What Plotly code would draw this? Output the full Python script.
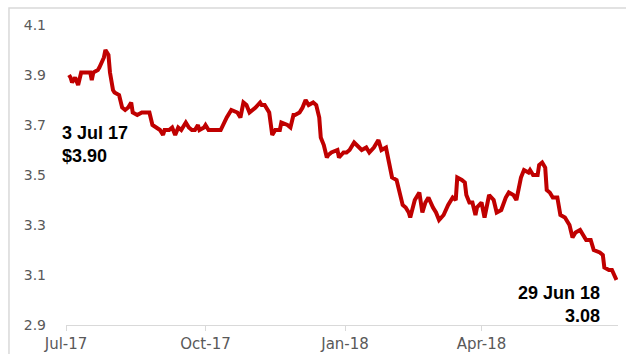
import plotly.graph_objects as go

dates = [
    "2017-07-03", "2017-07-04", "2017-07-05", "2017-07-07", "2017-07-09", "2017-07-11",
    "2017-07-14", "2017-07-16", "2017-07-17", "2017-07-18", "2017-07-19", "2017-07-22",
    "2017-07-23", "2017-07-26", "2017-07-27", "2017-07-29", "2017-07-30", "2017-08-01",
    "2017-08-02", "2017-08-05", "2017-08-06", "2017-08-07", "2017-08-09", "2017-08-11",
    "2017-08-13", "2017-08-14", "2017-08-17", "2017-08-20", "2017-08-23", "2017-08-25",
    "2017-08-27", "2017-08-30", "2017-09-01", "2017-09-03", "2017-09-04", "2017-09-07",
    "2017-09-09", "2017-09-11", "2017-09-13", "2017-09-15", "2017-09-18", "2017-09-20",
    "2017-09-22", "2017-09-24", "2017-09-26", "2017-09-27", "2017-09-30", "2017-10-01",
    "2017-10-03", "2017-10-11", "2017-10-13", "2017-10-15", "2017-10-18", "2017-10-22",
    "2017-10-24", "2017-10-26", "2017-10-28", "2017-10-30", "2017-11-03", "2017-11-06",
    "2017-11-07", "2017-11-09", "2017-11-12", "2017-11-13", "2017-11-14", "2017-11-16",
    "2017-11-19", "2017-11-20", "2017-11-24", "2017-11-26", "2017-11-28", "2017-11-29",
    "2017-12-02", "2017-12-04", "2017-12-06", "2017-12-08", "2017-12-11", "2017-12-13",
    "2017-12-15", "2017-12-16", "2017-12-18", "2017-12-20", "2017-12-21", "2017-12-23",
    "2017-12-27", "2017-12-28", "2017-12-31", "2018-01-02", "2018-01-04", "2018-01-07",
    "2018-01-10", "2018-01-12", "2018-01-15", "2018-01-17", "2018-01-20", "2018-01-23",
    "2018-01-25", "2018-01-28", "2018-01-30", "2018-02-01", "2018-02-04", "2018-02-06",
    "2018-02-08", "2018-02-10", "2018-02-12", "2018-02-13", "2018-02-14", "2018-02-16",
    "2018-02-19", "2018-02-21", "2018-02-23", "2018-02-25", "2018-02-28", "2018-03-02",
    "2018-03-04", "2018-03-07", "2018-03-10", "2018-03-13", "2018-03-15", "2018-03-16",
    "2018-03-19", "2018-03-21", "2018-03-22", "2018-03-24", "2018-03-26", "2018-03-28",
    "2018-03-29", "2018-04-01", "2018-04-03", "2018-04-06", "2018-04-09", "2018-04-11",
    "2018-04-14", "2018-04-17", "2018-04-19", "2018-04-22", "2018-04-24", "2018-04-27",
    "2018-04-29", "2018-05-02", "2018-05-03", "2018-05-05", "2018-05-08", "2018-05-09",
    "2018-05-11", "2018-05-13", "2018-05-14", "2018-05-16", "2018-05-18", "2018-05-21",
    "2018-05-23", "2018-05-26", "2018-05-29", "2018-05-31", "2018-06-02", "2018-06-05",
    "2018-06-07", "2018-06-09", "2018-06-12", "2018-06-14", "2018-06-18", "2018-06-20",
    "2018-06-21", "2018-06-24", "2018-06-26", "2018-06-28", "2018-06-29",
]

prices = [
    3.90, 3.89, 3.87, 3.89, 3.86, 3.91,
    3.91, 3.91, 3.91, 3.88, 3.91, 3.92,
    3.93, 3.97, 4.00, 3.98, 3.91, 3.84,
    3.83, 3.82, 3.80, 3.77, 3.76, 3.77,
    3.79, 3.75, 3.74, 3.75, 3.75, 3.75,
    3.70, 3.69, 3.68, 3.66, 3.68, 3.68,
    3.69, 3.66, 3.69, 3.68, 3.71, 3.69,
    3.68, 3.68, 3.70, 3.68, 3.69, 3.70,
    3.68, 3.68, 3.71, 3.73, 3.76, 3.75,
    3.73, 3.79, 3.78, 3.75, 3.77, 3.79,
    3.78, 3.78, 3.75, 3.71, 3.66, 3.68,
    3.68, 3.71, 3.70, 3.69, 3.74, 3.74,
    3.75, 3.77, 3.80, 3.78, 3.79, 3.78,
    3.73, 3.65, 3.62, 3.57, 3.58, 3.59,
    3.60, 3.57, 3.59, 3.59, 3.60, 3.63,
    3.61, 3.60, 3.61, 3.59, 3.61, 3.64,
    3.60, 3.61, 3.55, 3.49, 3.48, 3.42,
    3.38, 3.37, 3.35, 3.33, 3.36, 3.40,
    3.43, 3.35, 3.39, 3.41, 3.37, 3.35,
    3.32, 3.34, 3.38, 3.41, 3.40, 3.49,
    3.48, 3.47, 3.42, 3.39, 3.39, 3.34,
    3.37, 3.39, 3.33, 3.42, 3.40, 3.35,
    3.36, 3.41, 3.43, 3.42, 3.40, 3.49,
    3.52, 3.51, 3.52, 3.50, 3.50, 3.54,
    3.55, 3.53, 3.44, 3.43, 3.41, 3.41,
    3.34, 3.33, 3.30, 3.25, 3.27, 3.28,
    3.26, 3.24, 3.24, 3.20, 3.19, 3.18,
    3.13, 3.12, 3.12, 3.09, 3.08,
]

tick_vals = ["2017-07-01", "2017-10-01", "2018-01-01", "2018-04-01"]
tick_text = ["Jul-17", "Oct-17", "Jan-18", "Apr-18"]
start_label = "<b>3 Jul 17<br>$3.90</b>"
end_label = "<b>29 Jun 18<br>3.08</b>"

fig = go.Figure()
fig.add_trace(go.Scatter(
    x=dates, y=prices, mode="lines",
    line=dict(color="#C00000", width=4),
    hoverinfo="skip", showlegend=False,
))

fig.update_layout(
    width=626, height=354,
    margin=dict(l=66, r=8, t=25, b=29),
    paper_bgcolor="white", plot_bgcolor="white",
    showlegend=False,
    xaxis=dict(
        type="date", range=["2017-07-01", "2018-06-30"],
        tickvals=tick_vals, ticktext=tick_text,
        showgrid=False, zeroline=False, automargin=False,
        showline=True, linecolor="#d9d9d9", linewidth=1,
        ticks="outside", ticklen=5, tickcolor="#d9d9d9",
        tickfont=dict(family="DejaVu Sans", size=15, color="#595959"),
        ticklabelstandoff=0,
    ),
    yaxis=dict(
        range=[2.9, 4.1], tick0=2.9, dtick=0.2, tickformat=".1f",
        showgrid=False, zeroline=False, showline=False, ticks="",
        automargin=False,
        tickfont=dict(family="DejaVu Sans", size=14, color="#595959"),
        ticklabelstandoff=19,
    ),
    shapes=[dict(
        type="rect", xref="paper", yref="paper",
        x0=-0.1033, x1=1.05, y0=-0.2, y1=1.0567,
        line=dict(color="#d9d9d9", width=1.5), fillcolor="rgba(0,0,0,0)",
        layer="below",
    )],
    annotations=[
        dict(text=start_label, xref="paper", yref="paper",
             x=-0.0109, y=0.603, xanchor="left", yanchor="middle",
             align="left", showarrow=False,
             font=dict(family="Liberation Sans", size=18, color="black")),
        dict(text=end_label, xref="paper", yref="paper",
             x=0.971, y=0.0667, xanchor="right", yanchor="middle",
             align="right", showarrow=False,
             font=dict(family="Liberation Sans", size=18, color="black")),
    ],
)

fig.write_html("out.html")
